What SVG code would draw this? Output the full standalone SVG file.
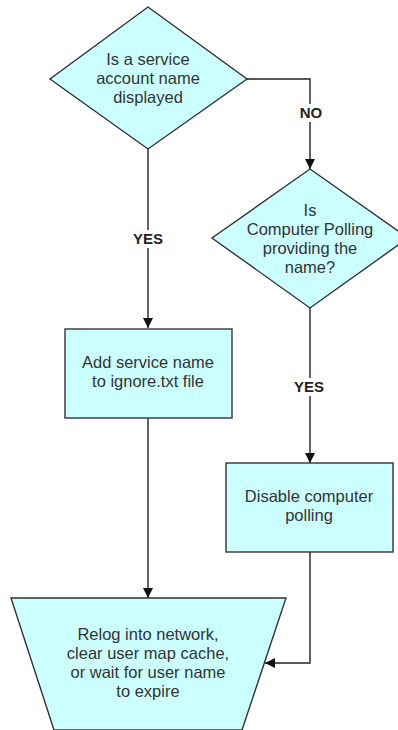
<svg xmlns="http://www.w3.org/2000/svg" width="398" height="730" viewBox="0 0 398 730">
<defs>
<style>
.shape{fill:#ccffff;stroke:#333333;stroke-width:1.4}
.t{font-family:"Liberation Sans",Arial,sans-serif;font-size:16.5px;fill:#333333;text-anchor:middle}
.lbl{font-family:"Liberation Sans",Arial,sans-serif;font-size:15px;font-weight:bold;fill:#222222;text-anchor:middle}
.line{fill:none;stroke:#222222;stroke-width:1.4}
.bg{fill:#ffffff}
</style>
<marker id="arr" viewBox="0 0 10 10" refX="10" refY="5" markerWidth="10" markerHeight="10" markerUnits="userSpaceOnUse" orient="auto">
<path d="M0,0 L10,5 L0,10 Z" fill="#111111"/>
</marker>
</defs>
<rect width="398" height="730" fill="#ffffff"/>
<g id="connectors">
<path class="line" d="M247,79 H310 V169" marker-end="url(#arr)"/>
<path class="line" d="M148,149 V328" marker-end="url(#arr)"/>
<path class="line" d="M148,418 V598" marker-end="url(#arr)"/>
<path class="line" d="M310,308 V463" marker-end="url(#arr)"/>
<path class="line" d="M310,552 V663 H265" marker-end="url(#arr)"/>
<rect class="bg" x="295" y="104" width="32" height="18"/>
<text class="lbl" x="311" y="118">NO</text>
<rect class="bg" x="129" y="230" width="38" height="18"/>
<text class="lbl" x="148" y="244">YES</text>
<rect class="bg" x="290" y="378" width="38" height="18"/>
<text class="lbl" x="309" y="392">YES</text>
</g>
<g id="decision1">
<path class="shape" d="M148,7 L247,79 L148,149 L50,79 Z"/>
<text class="t" x="148" y="65">Is a service</text>
<text class="t" x="148" y="84">account name</text>
<text class="t" x="148" y="103">displayed</text>
</g>
<g id="decision2">
<path class="shape" d="M310,169 L408,238 L310,308 L212,238 Z"/>
<text class="t" x="310" y="216">Is</text>
<text class="t" x="310" y="235">Computer Polling</text>
<text class="t" x="310" y="254">providing the</text>
<text class="t" x="310" y="273">name?</text>
</g>
<g id="addService">
<rect class="shape" x="65" y="329" width="167" height="89"/>
<text class="t" x="148" y="368">Add service name</text>
<text class="t" x="148" y="387">to ignore.txt file</text>
</g>
<g id="disablePolling">
<rect class="shape" x="226" y="463" width="167" height="89"/>
<text class="t" x="309" y="502">Disable computer</text>
<text class="t" x="309" y="521">polling</text>
</g>
<g id="relog">
<path class="shape" d="M11,598 L286,598 L242,730 L54,730 Z"/>
<text class="t" x="148" y="640">Relog into network,</text>
<text class="t" x="148" y="659">clear user map cache,</text>
<text class="t" x="148" y="678">or wait for user name</text>
<text class="t" x="148" y="697">to expire</text>
</g>
</svg>
